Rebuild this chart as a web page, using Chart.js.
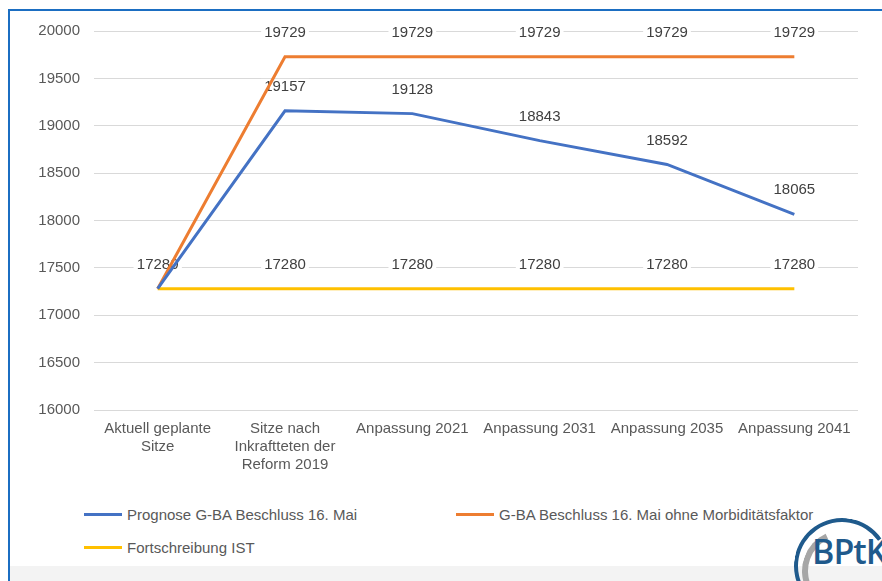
<!DOCTYPE html>
<html>
<head>
<meta charset="utf-8">
<script src="https://cdn.jsdelivr.net/npm/chart.js@4/dist/chart.umd.min.js"></script>
<style>
    html, body { margin: 0; padding: 0; background: #fff; }
    #page { position: relative; width: 882px; height: 581px; overflow: hidden; font-family: "Liberation Sans", Arial, sans-serif; }
    .frame { position: absolute; left: 8px; top: 9px; width: 874px; height: 572px; box-shadow: inset 2px 2px 0 #1b6ec2; }
    .footer { position: absolute; left: 10px; top: 566px; width: 872px; height: 15px; background: #f3f3f3; }
    #chartBox { position: absolute; left: 0; top: 0; width: 882px; height: 490px; }
    #legend { position: absolute; left: 84px; top: 498px; width: 780px; display: flex; flex-wrap: wrap; }
    .legend-item { width: 372px; height: 33px; display: flex; align-items: center; font-size: 15px; color: #595959; }
    .legend-line { width: 38px; height: 3px; margin-right: 5px; }
    .logo { position: absolute; left: 794px; top: 518px; width: 96px; height: 96px; border-radius: 50%; border-top: 4px solid #1f5a8c; border-left: 4px solid #1f5a8c; border-right: 4px solid transparent; border-bottom: 4px solid transparent; transform: rotate(10deg); box-sizing: border-box; }
    .logo2 { position: absolute; left: 802px; top: 530px; width: 82px; height: 82px; border-radius: 50%; border-left: 6px solid #a6a6a6; border-top: 6px solid transparent; border-right: 6px solid transparent; border-bottom: 6px solid transparent; box-sizing: border-box; transform: rotate(20deg); }
    .logo-text { position: absolute; left: 812px; top: 528px; font-family: "Open Sans", sans-serif; font-size: 34px; font-weight: 600; color: #1f5a8c; letter-spacing: -1px; white-space: nowrap; }
</style>
</head>
<body>
<div id="page">
    <div class="frame"></div>
    <div class="footer"></div>
    <div id="chartBox"><canvas id="mainChart"></canvas></div>
    <div id="legend"></div>
    <div class="logo"></div>
    <div class="logo2"></div>
    <div class="logo-text">BPtK</div>
</div>

<script>
// Daten
const categories = [
    ['Aktuell geplante', 'Sitze'],
    ['Sitze nach', 'Inkraftteten der', 'Reform 2019'],
    'Anpassung 2021',
    'Anpassung 2031',
    'Anpassung 2035',
    'Anpassung 2041'
];
const prognose = [17280, 19157, 19128, 18843, 18592, 18065];
const ohneMorbiditaet = [17280, 19729, 19729, 19729, 19729, 19729];
const fortschreibungIst = [17280, 17280, 17280, 17280, 17280, 17280];

const seriesNames = [
    'Prognose G-BA Beschluss 16. Mai',
    'G-BA Beschluss 16. Mai ohne Morbiditätsfaktor',
    'Fortschreibung IST'
];
const seriesColors = ['#4472c4', '#ed7d31', '#ffc000'];

const yMin = 16000;
const yMax = 20000;
const yStep = 500;

const FONT = '"Liberation Sans", Arial, sans-serif';

// Werte über den Punkten (vor den Linien gezeichnet)
const valueLabels = {
    id: 'valueLabels',
    beforeDatasetsDraw(chart) {
        const ctx = chart.ctx;
        ctx.save();
        ctx.font = '15px ' + FONT;
        ctx.textAlign = 'center';
        ctx.textBaseline = 'middle';
        chart.data.datasets.forEach((ds, i) => {
            const meta = chart.getDatasetMeta(i);
            meta.data.forEach((pt, j) => {
                const txt = String(ds.data[j]);
                const y = pt.y - 24;
                const w = ctx.measureText(txt).width;
                ctx.fillStyle = '#ffffff';
                ctx.fillRect(pt.x - w / 2 - 3, y - 8, w + 6, 16);
                ctx.fillStyle = '#404040';
                ctx.fillText(txt, pt.x, y);
            });
        });
        ctx.restore();
    }
};

function makeDataset(label, data, color) {
    return {
        label: label,
        data: data,
        borderColor: color,
        backgroundColor: color,
        borderWidth: 3,
        pointRadius: 0,
        tension: 0,
        fill: false
    };
}

const ctx = document.getElementById('mainChart').getContext('2d');
const chart = new Chart(ctx, {
    type: 'line',
    data: {
        labels: categories,
        datasets: [
            makeDataset(seriesNames[0], prognose, seriesColors[0]),
            makeDataset(seriesNames[1], ohneMorbiditaet, seriesColors[1]),
            makeDataset(seriesNames[2], fortschreibungIst, seriesColors[2])
        ]
    },
    options: {
        responsive: true,
        maintainAspectRatio: false,
        animation: false,
        layout: { padding: { left: 34, right: 24, top: 31, bottom: 8 } },
        plugins: {
            legend: { display: false },
            tooltip: { enabled: false }
        },
        scales: {
            x: {
                offset: true,
                grid: { display: false, drawTicks: false },
                border: { display: false },
                ticks: {
                    color: '#595959',
                    font: { family: FONT, size: 15, lineHeight: 1.2 },
                    padding: 10,
                    maxRotation: 0,
                    autoSkip: false
                },
                afterFit(scale) { scale.height = 72; }
            },
            y: {
                min: yMin,
                max: yMax,
                grid: { color: '#d9d9d9', lineWidth: 1, drawTicks: false },
                border: { display: false },
                ticks: {
                    stepSize: yStep,
                    color: '#595959',
                    font: { family: FONT, size: 15 },
                    padding: 14,
                    callback: value => String(value)
                },
                afterFit(scale) { scale.width = 60; }
            }
        }
    },
    plugins: [valueLabels]
});

// Legende als HTML
const legendEl = document.getElementById('legend');
chart.data.datasets.forEach(ds => {
    const item = document.createElement('div');
    item.className = 'legend-item';
    item.innerHTML = `<span class="legend-line" style="background:${ds.borderColor}"></span><span>${ds.label}</span>`;
    legendEl.appendChild(item);
});
</script>
</body>
</html>
